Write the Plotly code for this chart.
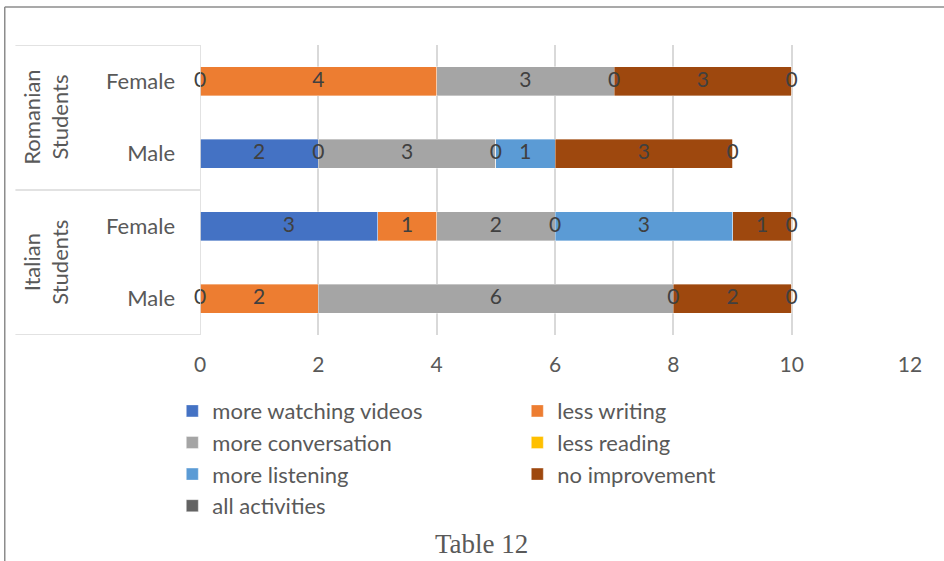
import plotly.graph_objects as go

# ---- data ----
groups = ["Italian Students", "Italian Students", "Romanian Students", "Romanian Students"]
genders = ["Male", "Female", "Male", "Female"]
series_names = ["more watching videos", "less writing", "more conversation", "less reading",
                "more listening", "no improvement", "all activities"]
more_watching_videos = [0, 3, 2, 0]
less_writing = [2, 1, 0, 4]
more_conversation = [6, 2, 3, 3]
less_reading = [0, 0, 0, 0]
more_listening = [None, 3, 1, None]
no_improvement = [2, 1, 3, 3]
all_activities = [0, 0, 0, 0]
x_ticks = [0, 2, 4, 6, 8, 10, 12]
chart_title = "Table 12"

series_values = [more_watching_videos, less_writing, more_conversation, less_reading,
                 more_listening, no_improvement, all_activities]
colors = ["#4472C4", "#ED7D31", "#A5A5A5", "#FFC000", "#5B9BD5", "#9E480E", "#636363"]

cats = [g + " | " + s for g, s in zip(groups, genders)]

FONT = "Lato"
fig = go.Figure()

# bars
for name, vals, col in zip(series_names, series_values, colors):
    fig.add_trace(go.Bar(
        y=cats, x=[v if v is not None else 0 for v in vals], name=name, orientation="h",
        marker=dict(color=col, line=dict(color="rgba(255,255,255,0.6)", width=0.6)),
        hoverinfo="x+name",
    ))

# data labels (positions derived from the data: cumulative midpoints)
lx, ly, lt = [], [], []
for i, c in enumerate(cats):
    cum = 0
    for vals in series_values:
        v = vals[i]
        if v is None:
            continue
        lx.append(cum + v / 2)
        ly.append(c)
        lt.append(str(v))
        cum += v
fig.add_trace(go.Scatter(
    x=lx, y=ly, text=lt, mode="text", showlegend=False, hoverinfo="skip",
    textfont=dict(family=FONT, size=21, color="#404040"), textposition="middle center",
    cliponaxis=False,
))

fig.update_layout(
    width=944, height=561,
    barmode="stack", bargap=0.6,
    plot_bgcolor="white", paper_bgcolor="white",
    margin=dict(l=200, r=34, t=45, b=226),
    font=dict(family=FONT, size=21, color="#595959"),
    xaxis=dict(range=[0, 12], tickvals=x_ticks, showgrid=True, gridcolor="#d9d9d9", gridwidth=1.5,
               zeroline=False, showline=False, ticks="", ticklabelstandoff=15,
               tickfont=dict(family=FONT, size=21, color="#595959")),
    yaxis=dict(type="category", categoryorder="array", categoryarray=cats,
               tickvals=cats, ticktext=genders, showgrid=False, zeroline=False, showline=False,
               ticks="", ticklabelstandoff=24, range=[-0.5, 3.5],
               tickfont=dict(family=FONT, size=22, color="#595959")),
    legend=dict(orientation="h", x=-0.039, xanchor="left", y=-0.19, yanchor="top",
                entrywidth=300, entrywidthmode="pixels", traceorder="normal",
                font=dict(family=FONT, size=22, color="#595959"), itemwidth=30),
    showlegend=True,
)

# group dividers & group labels
line_style = dict(color="#d9d9d9", width=1.5)
for yv in [-0.5, 1.5, 3.5]:
    fig.add_shape(type="line", xref="paper", yref="y", x0=-0.26, x1=0, y0=yv, y1=yv, line=line_style)
fig.add_shape(type="line", xref="x", yref="y", x0=0, x1=0, y0=-0.5, y1=3.5, line=line_style)

group_names = list(dict.fromkeys(groups))
for gi, g in enumerate(group_names):
    idx = [i for i, gg in enumerate(groups) if gg == g]
    center = sum(idx) / len(idx)
    fig.add_annotation(text=g.replace(" ", "<br>"), xref="paper", yref="y", x=-0.218, y=center,
                       xanchor="center", yanchor="middle", textangle=-90, showarrow=False,
                       font=dict(family=FONT, size=22, color="#595959"))

# title at bottom
fig.add_annotation(text=chart_title, xref="paper", yref="paper", x=0.397, y=-0.72,
                   xanchor="center", yanchor="middle",
                   showarrow=False, font=dict(family="Liberation Serif", size=27, color="#595959"))

# outer frame (cropped)
frame = dict(color="#8c8c8c", width=1.5)
fig.add_shape(type="line", xref="paper", yref="paper", x0=-0.275, x1=1.1, y0=1.131, y1=1.131, line=frame)
fig.add_shape(type="line", xref="paper", yref="paper", x0=-0.275, x1=-0.275, y0=1.131, y1=-0.8, line=frame)

fig.write_html("out.html")
